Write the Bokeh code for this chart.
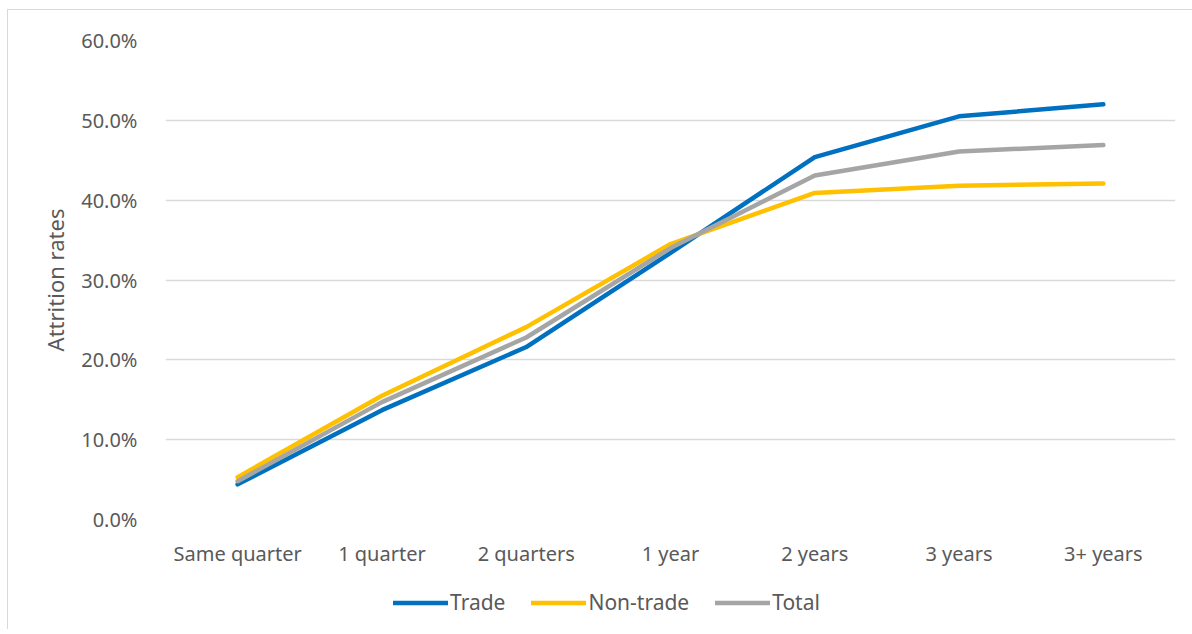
from bokeh.plotting import figure
from bokeh.layouts import column
from bokeh.models import FactorRange, Range1d, NumeralTickFormatter, Legend, LegendItem, FixedTicker
from bokeh.embed import file_html
from bokeh.resources import INLINE

categories = ["Same quarter", "1 quarter", "2 quarters", "1 year", "2 years", "3 years", "3+ years"]
trade = [0.044, 0.137, 0.216, 0.334, 0.454, 0.505, 0.520]
non_trade = [0.053, 0.155, 0.241, 0.345, 0.409, 0.418, 0.421]
total = [0.048, 0.147, 0.228, 0.340, 0.431, 0.461, 0.469]
y_ticks = [0.0, 0.1, 0.2, 0.3, 0.4, 0.5, 0.6]
series_names = ["Trade", "Non-trade", "Total"]
series_colors = ["#0070C0", "#FFC000", "#A5A5A5"]

FONT = "Noto Sans"
TXT = "#595959"

p = figure(width=1184, height=559, x_range=FactorRange(*categories, range_padding=0),
           y_range=Range1d(0, 0.6), output_backend="svg", toolbar_location=None,
           min_border_left=157, min_border_right=17, min_border_top=30, min_border_bottom=50)
p.outline_line_color = None

for vals, col in zip([trade, non_trade, total], series_colors):
    p.line(categories, vals, line_color=col, line_width=4.5, line_cap="round", line_join="round")

p.yaxis.ticker = FixedTicker(ticks=y_ticks)
p.yaxis.formatter = NumeralTickFormatter(format="0.0%")
p.yaxis.axis_label = "Attrition rates"
for ax in (p.xaxis[0], p.yaxis[0]):
    ax.axis_line_color = None
    ax.major_tick_line_color = None
    ax.minor_tick_line_color = None
    ax.major_label_text_font = FONT
    ax.major_label_text_font_size = "20px"
    ax.major_label_text_color = TXT
p.yaxis.major_label_standoff = 22
p.xaxis.major_label_standoff = 14
p.yaxis.axis_label_text_font = FONT
p.yaxis.axis_label_text_font_size = "22px"
p.yaxis.axis_label_text_font_style = "normal"
p.yaxis.axis_label_text_color = TXT
p.yaxis.axis_label_standoff = 8

p.xgrid.grid_line_color = None
p.ygrid.grid_line_color = "#d9d9d9"
p.ygrid.grid_line_width = 1.5

# legend strip below the chart (its lines lie outside its own ranges, so only the legend shows)
lf = figure(width=1184, height=60, x_range=Range1d(0, 1), y_range=Range1d(0, 1),
            output_backend="svg", toolbar_location=None,
            min_border_left=0, min_border_right=0, min_border_top=0, min_border_bottom=0)
lf.axis.visible = False
lf.grid.grid_line_color = None
lf.outline_line_color = None
items = []
for name, col in zip(series_names, series_colors):
    r = lf.line([5, 6], [5, 6], line_color=col, line_width=4.5, line_cap="round")
    items.append(LegendItem(label=name, renderers=[r]))
legend = Legend(items=items, orientation="horizontal", location=(228, 13),
                label_text_font=FONT, label_text_font_size="21px", label_text_color=TXT,
                glyph_width=55, glyph_height=21, label_height=21, label_standoff=2, spacing=26,
                border_line_color=None, background_fill_alpha=0, margin=0, padding=0)
lf.add_layout(legend, "center")

layout = column(p, lf, spacing=0, margin=(9, 0, 0, 7))
layout.styles = {"border-top": "1px solid #d9d9d9", "border-left": "1px solid #d9d9d9"}

open("out.html", "w").write(file_html(layout, INLINE))
